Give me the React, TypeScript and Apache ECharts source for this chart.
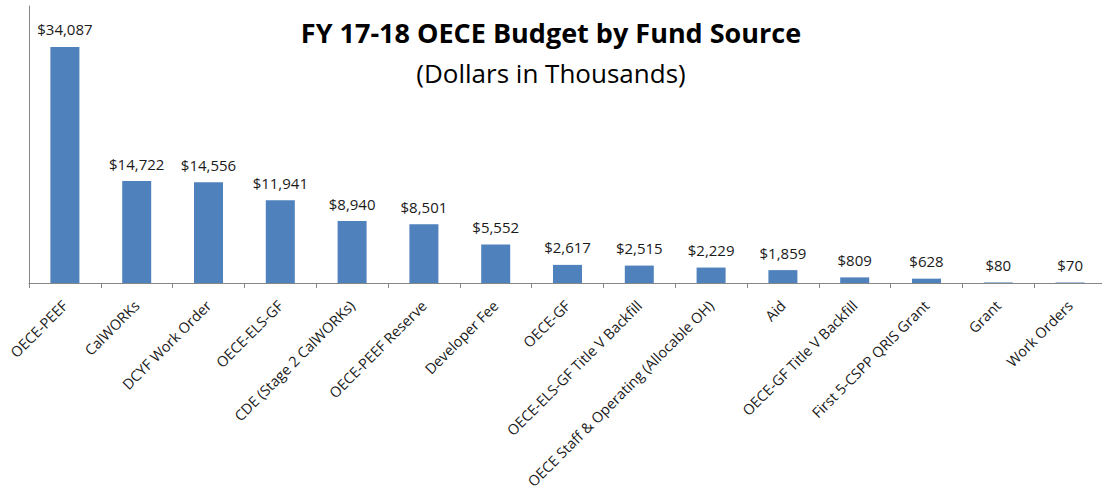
import React, { useEffect, useRef } from "react";
import * as echarts from "echarts";

const categories = [
  "OECE-PEEF",
  "CalWORKs",
  "DCYF Work Order",
  "OECE-ELS-GF",
  "CDE (Stage 2 CalWORKs)",
  "OECE-PEEF Reserve",
  "Developer Fee",
  "OECE-GF",
  "OECE-ELS-GF Title V Backfill",
  "OECE Staff & Operating (Allocable OH)",
  "Aid",
  "OECE-GF Title V Backfill",
  "First 5-CSPP QRIS Grant",
  "Grant",
  "Work Orders",
];

const budgetValues = [34087, 14722, 14556, 11941, 8940, 8501, 5552, 2617, 2515, 2229, 1859, 809, 628, 80, 70];

const titleText = "FY 17-18 OECE Budget by Fund Source";
const subtitleText = "(Dollars in Thousands)";

const FONT = "'Open Sans', Lato, sans-serif";

export default function App() {
  const ref = useRef<HTMLDivElement>(null);

  useEffect(() => {
    document.body.style.margin = "0";
    if (!ref.current) return;
    const chart = echarts.init(ref.current, null, { renderer: "svg" });
    chart.setOption({
      animation: false,
      backgroundColor: "#ffffff",
      textStyle: { fontFamily: FONT },
      title: [
        {
          text: titleText,
          left: "center",
          top: 14,
          textStyle: { fontFamily: FONT, fontSize: 27, fontWeight: "bold", color: "#000000" },
        },
        {
          text: subtitleText,
          left: "center",
          top: 55,
          textStyle: { fontFamily: FONT, fontSize: 26, fontWeight: "normal", color: "#000000" },
        },
      ],
      grid: {
        left: 29,
        top: 6,
        bottom: 209,
        width: 1077,
        containLabel: false,
        outerBoundsMode: "none",
      },
      xAxis: {
        type: "category",
        data: categories,
        boundaryGap: true,
        axisLine: { show: true, lineStyle: { color: "#868686", width: 1 } },
        axisTick: { show: true, length: 5, lineStyle: { color: "#868686" } },
        axisLabel: {
          interval: 0,
          rotate: 45,
          margin: 20,
          fontFamily: FONT,
          fontSize: 14.5,
          lineHeight: 16,
          color: "#1a1a1a",
          hideOverlap: false,
        },
      },
      yAxis: {
        type: "value",
        min: 0,
        max: 40000,
        axisLine: { show: true, lineStyle: { color: "#868686", width: 1 } },
        axisTick: { show: false },
        axisLabel: { show: false },
        splitLine: { show: false },
      },
      series: [
        {
          type: "bar",
          data: budgetValues,
          barWidth: 29,
          itemStyle: { color: "#4F81BD" },
          label: {
            show: true,
            position: "top",
            distance: 10,
            fontFamily: FONT,
            fontSize: 15,
            color: "#1a1a1a",
            formatter: (p: any) => "$" + Number(p.value).toLocaleString("en-US"),
          },
        },
      ],
    });
    return () => chart.dispose();
  }, []);

  return <div ref={ref} style={{ width: 1102, height: 492 }} />;
}
